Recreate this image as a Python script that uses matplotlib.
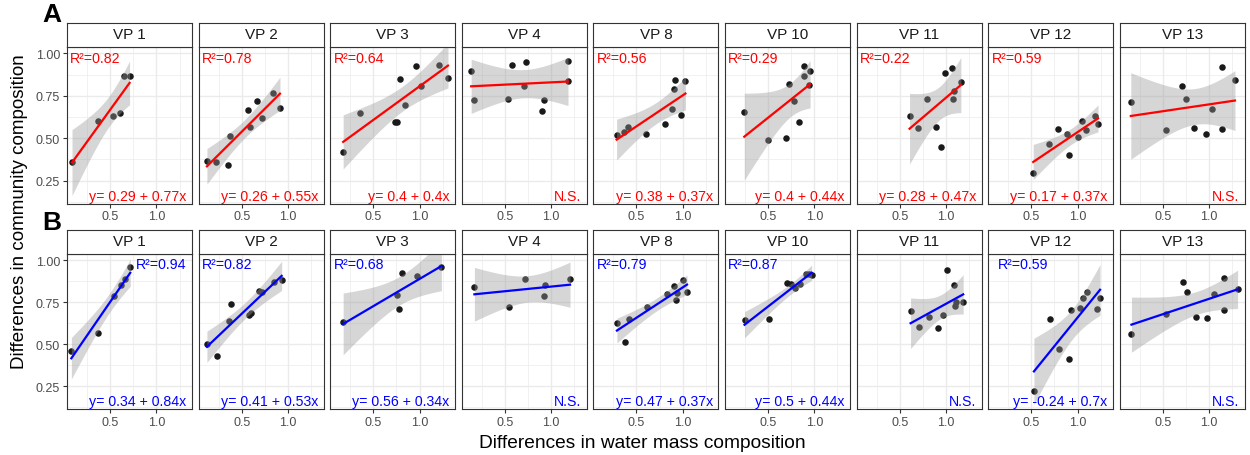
import numpy as np
import matplotlib
matplotlib.use("Agg")
import matplotlib.pyplot as plt

plt.rcParams["font.family"] = ["Liberation Sans", "DejaVu Sans"]

panels = ["VP 1", "VP 2", "VP 3", "VP 4", "VP 8", "VP 10", "VP 11", "VP 12", "VP 13"]

# row A: water mass vs community composition (first set)
wm_a = [
    [0.089, 0.368, 0.536, 0.611, 0.65, 0.711],
    [0.125, 0.225, 0.354, 0.379, 0.571, 0.593, 0.671, 0.718, 0.839, 0.914],
    [0.175, 0.354, 0.739, 0.761, 0.793, 0.839, 0.957, 1.014, 1.211, 1.307],
    [0.136, 0.171, 0.536, 0.579, 0.704, 0.732, 0.904, 0.918, 1.182, 1.182],
    [0.286, 0.368, 0.411, 0.607, 0.811, 0.886, 0.904, 0.918, 0.986, 1.029],
    [0.243, 0.5, 0.696, 0.729, 0.782, 0.832, 0.889, 0.893, 0.943, 0.954],
    [0.607, 0.696, 0.796, 0.896, 0.943, 0.989, 1.068, 1.071, 1.089, 1.161],
    [0.521, 0.689, 0.786, 0.889, 0.907, 1.007, 1.046, 1.086, 1.186, 1.221],
    [0.154, 0.529, 0.711, 0.75, 0.836, 0.964, 1.032, 1.139, 1.139, 1.279],
]
cc_a = [
    [0.362, 0.604, 0.630, 0.646, 0.864, 0.866],
    [0.364, 0.358, 0.344, 0.510, 0.667, 0.563, 0.719, 0.620, 0.764, 0.677],
    [0.417, 0.650, 0.598, 0.598, 0.848, 0.697, 0.925, 0.807, 0.929, 0.852],
    [0.894, 0.726, 0.730, 0.929, 0.807, 0.949, 0.659, 0.724, 0.955, 0.835],
    [0.518, 0.537, 0.563, 0.522, 0.583, 0.671, 0.791, 0.844, 0.636, 0.837],
    [0.652, 0.488, 0.502, 0.819, 0.719, 0.593, 0.923, 0.868, 0.815, 0.894],
    [0.630, 0.559, 0.730, 0.567, 0.447, 0.884, 0.911, 0.732, 0.776, 0.829],
    [0.297, 0.465, 0.555, 0.524, 0.398, 0.506, 0.604, 0.549, 0.632, 0.581],
    [0.713, 0.549, 0.807, 0.728, 0.561, 0.526, 0.669, 0.555, 0.921, 0.843],
]
r2_a = ["0.82", "0.78", "0.64", None, "0.56", "0.29", "0.22", "0.59", None]
eq_a = ["y= 0.29 + 0.77x", "y= 0.26 + 0.55x", "y= 0.4 + 0.4x", "N.S.",
        "y= 0.38 + 0.37x", "y= 0.4 + 0.44x", "y= 0.28 + 0.47x",
        "y= 0.17 + 0.37x", "N.S."]
r2x_a = [0.07] * 9

# row B
wm_b = [
    [0.082, 0.375, 0.543, 0.621, 0.664, 0.718],
    [0.125, 0.229, 0.361, 0.386, 0.579, 0.600, 0.682, 0.725, 0.850, 0.932],
    [0.175, 0.754, 0.775, 0.807, 0.975, 1.236],
    [0.171, 0.55, 0.718, 0.921, 0.936, 1.204],
    [0.289, 0.375, 0.418, 0.618, 0.825, 0.904, 0.925, 0.936, 1.004, 1.046],
    [0.246, 0.507, 0.707, 0.743, 0.796, 0.850, 0.911, 0.946, 0.971],
    [0.618, 0.711, 0.814, 0.918, 0.964, 1.011, 1.089, 1.093, 1.111, 1.186],
    [0.529, 0.7, 0.8, 0.904, 0.925, 1.025, 1.064, 1.104, 1.211, 1.243],
    [0.161, 0.539, 0.721, 0.764, 0.854, 0.982, 1.05, 1.164, 1.164, 1.307],
]
cc_b = [
    [0.461, 0.567, 0.785, 0.852, 0.886, 0.957],
    [0.504, 0.429, 0.640, 0.738, 0.673, 0.689, 0.817, 0.811, 0.872, 0.884],
    [0.630, 0.793, 0.707, 0.925, 0.904, 0.959],
    [0.843, 0.720, 0.886, 0.785, 0.854, 0.888],
    [0.628, 0.514, 0.652, 0.724, 0.801, 0.844, 0.762, 0.805, 0.882, 0.811],
    [0.644, 0.650, 0.864, 0.856, 0.833, 0.856, 0.919, 0.917, 0.911],
    [0.695, 0.600, 0.665, 0.596, 0.675, 0.939, 0.854, 0.728, 0.754, 0.754],
    [0.222, 0.652, 0.472, 0.413, 0.703, 0.713, 0.776, 0.813, 0.711, 0.778],
    [0.563, 0.681, 0.870, 0.809, 0.665, 0.657, 0.799, 0.896, 0.701, 0.827],
]
r2_b = ["0.94", "0.82", "0.68", None, "0.79", "0.87", None, "0.59", None]
eq_b = ["y= 0.34 + 0.84x", "y= 0.41 + 0.53x", "y= 0.56 + 0.34x", "N.S.",
        "y= 0.47 + 0.37x", "y= 0.5 + 0.44x", "N.S.", "y= -0.24 + 0.7x", "N.S."]
r2x_b = [0.78, 0.07, 0.07, 0.07, 0.07, 0.07, 0.07, 0.14, 0.07]

# two-sided 95% t quantiles by degrees of freedom
T975 = {4: 2.776, 5: 2.571, 6: 2.447, 7: 2.365, 8: 2.306, 9: 2.262}

W, H = 1250, 456
XLIM = (0.035, 1.385)
YLIM = (0.115, 1.04)
lefts = [67 + i * 131.6 for i in range(9)]
pw = 125
strip_h = 24


def lm_band(x, y):
    x = np.asarray(x)
    y = np.asarray(y)
    b, a = np.polyfit(x, y, 1)
    n = len(x)
    res = y - (a + b * x)
    s = np.sqrt(np.sum(res ** 2) / (n - 2))
    xs = np.linspace(x.min(), x.max(), 80)
    se = s * np.sqrt(1 / n + (xs - x.mean()) ** 2 / np.sum((x - x.mean()) ** 2))
    fit = a + b * xs
    t = T975[n - 2]
    return xs, fit, fit - t * se, fit + t * se


def draw_row(fig, top, bottom, wm, cc, r2, eq, r2x, col, letter, letter_y):
    for i in range(9):
        x0 = lefts[i] / W
        ax = fig.add_axes([x0, (H - bottom) / H, pw / W, (bottom - top - strip_h) / H])
        ax.set_xlim(*XLIM)
        ax.set_ylim(*YLIM)
        ax.set_xticks([0.5, 1.0])
        ax.set_xticklabels(["0.5", "1.0"])
        ax.set_xticks([0.25, 0.75, 1.25], minor=True)
        ax.set_yticks([0.25, 0.5, 0.75, 1.0])
        ax.set_yticks([0.125, 0.375, 0.625, 0.875], minor=True)
        ax.grid(True, which="major", color="#EBEBEB", lw=1.0)
        ax.grid(True, which="minor", color="#EBEBEB", lw=0.5)
        ax.set_axisbelow(True)
        ax.tick_params(which="minor", length=0)
        ax.tick_params(which="major", length=3, width=0.8, color="#333333",
                       labelcolor="#4D4D4D", labelsize=9, pad=2)
        if i == 0:
            ax.set_yticklabels(["0.25", "0.50", "0.75", "1.00"])
        else:
            ax.tick_params(axis="y", which="major", length=0, labelleft=False)
        for sp in ax.spines.values():
            sp.set_color("#333333")
            sp.set_linewidth(0.8)

        x, y = wm[i], cc[i]
        ax.scatter(x, y, s=22, color="#1A1A1A", zorder=2, linewidths=0)
        xs, fit, lo, hi = lm_band(x, y)
        ax.fill_between(xs, lo, hi, color="#999999", alpha=0.4, lw=0, zorder=3)
        ax.plot(xs, fit, color=col, lw=1.6, zorder=4)

        if r2[i] is not None:
            ax.text(r2x[i], 0.975, "R²=" + r2[i], color=col, fontsize=10.2,
                    ha="left", va="center", zorder=5)
        ax.text(1.325, 0.16, eq[i], color=col, fontsize=10.2,
                ha="right", va="center", zorder=5)

        # facet strip
        sax = fig.add_axes([x0, (H - top - strip_h) / H, pw / W, strip_h / H])
        sax.set_xticks([])
        sax.set_yticks([])
        sax.set_facecolor("white")
        for sp in sax.spines.values():
            sp.set_color("#333333")
            sp.set_linewidth(0.8)
        sax.text(0.5, 0.5, panels[i], ha="center", va="center",
                 fontsize=11, color="#1A1A1A", transform=sax.transAxes)

    fig.text(52 / W, 1 - letter_y / H, letter, fontsize=19, fontweight="heavy",
             ha="center", va="center")


fig = plt.figure(figsize=(W / 100, H / 100), dpi=100)
draw_row(fig, 23.5, 204.5, wm_a, cc_a, r2_a, eq_a, r2x_a, "red", "A", 15)
draw_row(fig, 230.5, 410, wm_b, cc_b, r2_b, eq_b, r2x_b, "blue", "B", 223)

fig.text(642 / W, 1 - 444 / H, "Differences in water mass composition",
         fontsize=13.8, ha="center", va="center", color="black")
fig.text(20 / W, 1 - 212 / H, "Differences in community composition",
         fontsize=13.5, ha="center", va="center", rotation=90, color="black")

fig.savefig("out.png", dpi=100)
